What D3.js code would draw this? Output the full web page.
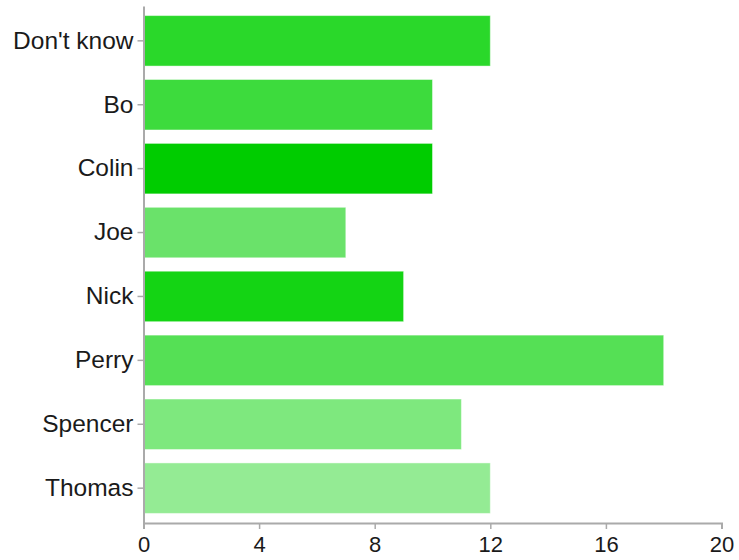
<!DOCTYPE html>
<html><head><meta charset="utf-8">
<script src="https://cdn.jsdelivr.net/npm/d3@7"></script>
<style>body{margin:0;background:#fff}</style>
</head><body>
<svg id="chart" width="739" height="560"></svg>
<script>
const categories = ["Don't know","Bo","Colin","Joe","Nick","Perry","Spencer","Thomas"];
const values = [12,10,10,7,9,18,11,12];
const colors = ["#2ad82a","#3ddb3d","#00cc00","#6ae26a","#14d414","#55e055","#7ee87e","#94eb94"];
const xTicks = [0,4,8,12,16,20];

const svg = d3.select("#chart");
const mLeft = 143.5, mRight = 721.5, mTop = 6, mBottom = 523;
const x = d3.scaleLinear().domain([0,20]).range([mLeft,mRight]);
const y = d3.scaleBand().domain(categories).range([mTop,mBottom]).paddingInner(0.21).paddingOuter(0.15);

svg.selectAll("rect.bar").data(categories).enter().append("rect")
  .attr("class","bar")
  .attr("x", x(0))
  .attr("y", d=>y(d))
  .attr("width", (d,i)=>x(values[i])-x(0))
  .attr("height", y.bandwidth())
  .attr("fill", (d,i)=>colors[i])
  .attr("stroke","rgba(255,255,255,0.45)")
  .attr("stroke-width",1);

const xa = svg.append("g").attr("transform",`translate(0,${mBottom})`)
  .call(d3.axisBottom(x).tickValues(xTicks).tickSize(6).tickSizeOuter(6).tickPadding(7));
xa.selectAll("text").attr("font-size","22px").attr("fill","#1a1a1a").attr("font-family","Liberation Sans, Arial, sans-serif");

const ya = svg.append("g").attr("transform",`translate(${mLeft},0)`)
  .call(d3.axisLeft(y).tickSize(6).tickSizeOuter(0).tickPadding(4));
ya.selectAll("text").attr("font-size","24.5px").attr("fill","#1a1a1a").attr("font-family","Liberation Sans, Arial, sans-serif");

svg.selectAll(".domain").attr("stroke","#aaa").attr("stroke-width",2);
svg.selectAll(".tick line").attr("stroke","#aaa").attr("stroke-width",1.5);
</script>
</body></html>
